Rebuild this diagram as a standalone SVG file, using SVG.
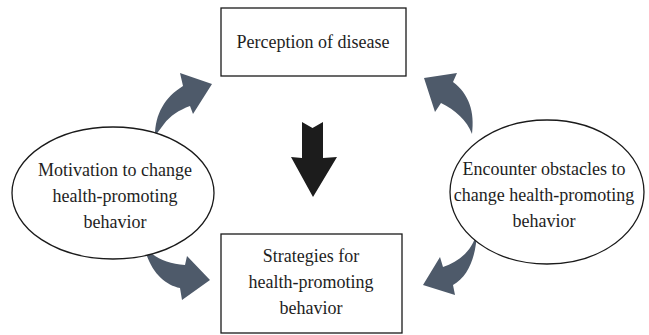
<svg xmlns="http://www.w3.org/2000/svg" width="649" height="335" viewBox="0 0 649 335">
<style>
.box{fill:#fff;stroke:#1a1a1a;stroke-width:1.3}
.ell{fill:#fff;stroke:#1a1a1a;stroke-width:1.3}
.t{font-family:'Liberation Serif','DejaVu Serif',serif;font-size:18px;fill:#1e1e1e;text-anchor:middle}
.ca{fill:#4e5a6a}
.ba{fill:#1c1c1c}
</style>
<rect width="649" height="335" fill="#fff"/>
<g id="connectors">
<path class="ca" d="M155,136 C155,114 165,97 183,86 L180,73 L212,84 L193,114 L190,106 C179,110 170,116 164,124 Z"/>
<path class="ca" d="M472,134 C475,112 469,94 453,82 L457,73 L424,78 L435,112 L441,103 C455,110 467,120 472,134 Z"/>
<path class="ca" d="M144,246 C152,256 166,264 185,265 L187,256 L210,280 L182,300 L180,288 C165,285 150,272 144,246 Z"/>
<path class="ca" d="M477,232 C476,256 469,276 453,285 L455,295 L423,285 L440,257 L443,267 C458,262 472,252 477,232 Z"/>
<path class="ba" d="M302,122 L312.5,128 L323,122 L323,158 L337,157 L313,197 L291,157 L302,158 Z"/>
</g>
<g id="perception">
<rect class="box" x="221" y="8" width="185" height="68"/>
<text class="t" x="313" y="48" font-family="Liberation Serif">Perception of disease</text>
</g>
<g id="strategies">
<rect class="box" x="221" y="234" width="181" height="99"/>
<text class="t" x="311" y="262">Strategies for</text>
<text class="t" x="311" y="288">health-promoting</text>
<text class="t" x="311" y="314">behavior</text>
</g>
<g id="motivation">
<ellipse class="ell" cx="113" cy="193" rx="101" ry="66"/>
<text class="t" x="115" y="176">Motivation to change</text>
<text class="t" x="115" y="202">health-promoting</text>
<text class="t" x="115" y="228">behavior</text>
</g>
<g id="obstacles">
<ellipse class="ell" cx="547" cy="192" rx="97" ry="72"/>
<text class="t" x="544" y="175">Encounter obstacles to</text>
<text class="t" x="544" y="201">change health-promoting</text>
<text class="t" x="544" y="227">behavior</text>
</g>
</svg>
